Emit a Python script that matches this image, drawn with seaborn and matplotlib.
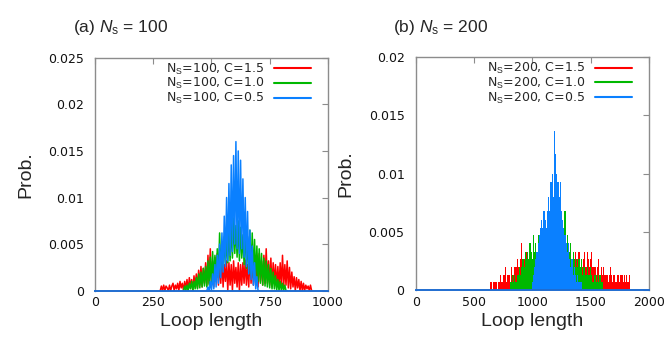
import numpy as np
import pandas as pd
import matplotlib
matplotlib.use("Agg")
import matplotlib.pyplot as plt
import seaborn as sns

# ---------------- data (probabilities in units of 1e-4) ----------------
# panel (a) Ns = 100, sampled every 5 loop-length units (noisy, alternating)
a_bin = 5
a_red_start = 285
a_red = [5, 0, 6, 0, 5, 3, 0, 6, 0, 5,
         8, 0, 6, 2, 8, 0, 10, 3, 8, 0,
         10, 2, 12, 0, 14, 4, 12, 0, 16, 5,
         18, 3, 22, 6, 26, 4, 24, 8, 30, 5,
         38, 8, 45, 6, 32, 4, 36, 10, 40, 6,
         30, 8, 35, 4, 28, 10, 32, 0, 30, 6,
         28, 0, 32, 8, 25, 4, 30, 0, 28, 6,
         30, 8, 33, 6, 28, 4, 36, 8, 32, 6,
         34, 8, 38, 4, 40, 10, 32, 6, 38, 8,
         45, 8, 32, 6, 35, 4, 30, 8, 28, 4,
         26, 3, 30, 6, 38, 4, 28, 6, 32, 3,
         25, 2, 20, 4, 15, 0, 14, 3, 12, 0,
         10, 0, 8, 0, 6, 2, 5, 0, 6]
a_green_start = 385
a_green = [5, 0, 6, 0, 8, 2, 10, 0, 10, 2,
           14, 2, 18, 3, 20, 4, 24, 5, 26, 4,
           32, 6, 36, 8, 42, 10, 38, 12, 45, 14,
           62, 22, 50, 25, 58, 28, 55, 30, 65, 32,
           72, 35, 78, 40, 70, 36, 75, 32, 68, 35,
           60, 28, 70, 24, 58, 20, 65, 18, 62, 14,
           55, 12, 48, 10, 45, 8, 40, 6, 35, 5,
           32, 4, 28, 3, 24, 2, 20, 2, 16, 0,
           12, 0, 10, 0, 8, 0, 6, 0]
a_blue_start = 485
a_blue = [4, 0, 10, 0, 18, 2, 28, 4, 38, 8,
          50, 14, 62, 20, 80, 26, 100, 32, 115, 38,
          135, 42, 145, 50, 160, 45, 150, 40, 140, 45,
          120, 36, 100, 26, 85, 18, 65, 12, 48, 6,
          30, 2, 15, 0]

# panel (b) Ns = 200, bin width 10
b_bin = 10
b_red_start = 640
b_red = [7, 7, 0, 7, 7, 7, 0, 7, 7, 13,
         7, 13, 13, 20, 7, 13, 13, 7, 20, 13,
         13, 20, 20, 27, 20, 13, 27, 40, 20, 27,
         27, 33, 20, 27, 33, 27, 20, 33, 27, 20,
         27, 20, 13, 20, 27, 13, 20, 7, 13, 20,
         13, 7, 13, 20, 7, 13, 7, 13, 20, 7,
         13, 20, 7, 13, 20, 27, 13, 20, 27, 20,
         27, 20, 27, 33, 20, 27, 33, 20, 27, 20,
         27, 33, 20, 33, 27, 20, 27, 33, 20, 20,
         20, 13, 20, 27, 13, 20, 13, 20, 13, 13,
         13, 7, 13, 20, 13, 7, 13, 7, 7, 13,
         13, 7, 13, 13, 7, 13, 7, 13, 7, 13]
b_green_start = 810
b_green = [7, 7, 13, 7, 13, 7, 13, 13, 20, 13,
           20, 27, 20, 33, 27, 33, 27, 40, 33, 27,
           47, 33, 40, 27, 47, 33, 40, 47, 33, 27,
           40, 33, 47, 27, 40, 33, 20, 40, 27, 33,
           40, 27, 47, 33, 20, 47, 53, 68, 40, 47,
           40, 33, 40, 27, 33, 27, 20, 27, 20, 27,
           20, 27, 13, 20, 20, 13, 20, 13, 13, 20,
           13, 7, 13, 13, 7, 13, 7, 13, 7, 7]
b_blue_start = 1000
b_blue = [7, 13, 20, 27, 33, 40, 47, 53, 60, 53,
          68, 60, 53, 68, 80, 68, 93, 100, 80, 137,
          117, 100, 93, 80, 93, 68, 60, 53, 47, 40,
          33, 40, 27, 20, 27, 13, 20, 13, 7, 13,
          7, 7, 7]

series_names = ["C=1.5", "C=1.0", "C=0.5"]
colors = ["#ff0000", "#00b800", "#0a80ff"]
a_labels = [r"N$_{\rm S}$=100, C=1.5", r"N$_{\rm S}$=100, C=1.0", r"N$_{\rm S}$=100, C=0.5"]
b_labels = [r"N$_{\rm S}$=200, C=1.5", r"N$_{\rm S}$=200, C=1.0", r"N$_{\rm S}$=200, C=0.5"]

a_xticks = [0, 250, 500, 750, 1000]
a_yticks = [0, 0.005, 0.01, 0.015, 0.02, 0.025]
a_yticklabels = ["0", "0.005", "0.01", "0.015", "0.02", "0.025"]
b_xticks = [0, 500, 1000, 1500, 2000]
b_yticks = [0, 0.005, 0.01, 0.015, 0.02]
b_yticklabels = ["0", "0.005", "0.01", "0.015", "0.02"]

# ---------------- style ----------------
sns.set_theme(style="white")
plt.rcParams["font.family"] = ["DejaVu Sans"]
plt.rcParams["mathtext.fontset"] = "custom"
plt.rcParams["mathtext.rm"] = "Liberation Sans"
plt.rcParams["mathtext.it"] = "Liberation Sans:italic"


def series_frame(start, vals, bw, pad=False):
    xs = [start + i * bw for i in range(len(vals))]
    ys = [v * 1e-4 for v in vals]
    if pad:
        xs = [start - bw] + xs + [start + len(vals) * bw]
        ys = [0.0] + ys + [0.0]
    return pd.DataFrame({"x": xs, "prob": ys})


fig = plt.figure(figsize=(6.66, 3.38), dpi=100)
axa = fig.add_axes([0.1426, 0.1399, 0.3498, 0.6893])
axb = fig.add_axes([0.6242, 0.1420, 0.3503, 0.6885])

spine_col = "#8c8c8c"
panels = [
    (axa, "line", [(a_red_start, a_red), (a_green_start, a_green), (a_blue_start, a_blue)],
     a_bin, a_labels, a_xticks, a_yticks, a_yticklabels, 1000, 0.025),
    (axb, "hist", [(b_red_start, b_red), (b_green_start, b_green), (b_blue_start, b_blue)],
     b_bin, b_labels, b_xticks, b_yticks, b_yticklabels, 2000, 0.02),
]
for ax, kind, specs, bw, labels, xt, yt, ytl, xmax, ymax in panels:
    handles = []
    for (start, vals), col, lab in zip(specs, colors, labels):
        if kind == "line":
            df = series_frame(start, vals, bw, pad=True)
            sns.lineplot(data=df, x="x", y="prob", color=col, linewidth=1.1,
                         estimator=None, ax=ax)
        else:
            df = series_frame(start, vals, bw)
            edges = [start - bw / 2 + k * bw for k in range(len(vals) + 1)]
            sns.histplot(data=df, x="x", weights="prob", bins=edges, element="step",
                         fill=True, color=col, alpha=1.0, linewidth=0.0, ax=ax)
        handles.append(plt.Line2D([], [], color=col, linewidth=1.5, label=lab))
    ax.set_xlim(0, xmax)
    ax.set_ylim(0, ymax)
    ax.set_xticks(xt)
    ax.set_xticklabels([str(v) for v in xt])
    ax.set_yticks(yt)
    ax.set_yticklabels(ytl)
    ax.tick_params(axis="both", direction="in", length=4, width=0.8, color=spine_col,
                   labelsize=9, top=True, right=True, labelcolor="#111111")
    ax.tick_params(axis="y", pad=8)
    ax.tick_params(axis="x", pad=4)
    for name, s in ax.spines.items():
        s.set_visible(True)
        s.set_color(spine_col)
        s.set_linewidth(1.0)
    ax.spines["bottom"].set_color("#1f6cd0")
    ax.spines["bottom"].set_linewidth(1.4)
    ax.spines["bottom"].set_zorder(5)
    ax.set_xlabel("Loop length", fontsize=14, family="Liberation Sans", labelpad=3)
    ax.set_ylabel("Prob.", fontsize=14, family="Liberation Sans", labelpad=10)
    ax.legend(handles=handles, loc="upper right", bbox_to_anchor=(0.945, 1.0),
              frameon=False, fontsize=9, markerfirst=False, handlelength=3.0,
              handletextpad=0.8, labelspacing=-0.03, borderpad=0.3,
              borderaxespad=0.0)

fig.text(0.1096, 0.906, r"(a) $N_{\rm s}$ = 100", fontsize=12.5,
         family="Liberation Sans", va="baseline", ha="left")
fig.text(0.590, 0.906, r"(b) $N_{\rm s}$ = 200", fontsize=12.5,
         family="Liberation Sans", va="baseline", ha="left")

fig.savefig("out.png", dpi=100, facecolor="white")
